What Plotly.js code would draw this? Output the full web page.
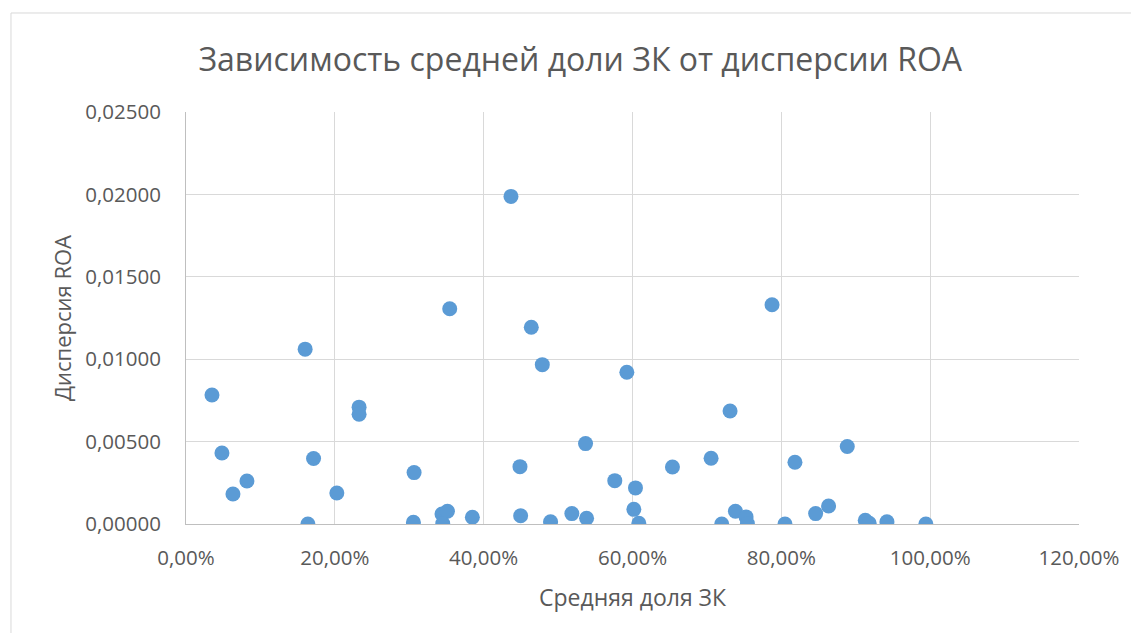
<!DOCTYPE html>
<html>
<head>
<meta charset="utf-8">
<script src="https://cdn.plot.ly/plotly-3.0.1.min.js"></script>
<style>
  html, body { margin: 0; padding: 0; background: #ffffff; }
  #chart { width: 1131px; height: 633px; }
</style>
</head>
<body>
<div id="chart"></div>
<script>
// Средняя доля заёмного капитала (доля от 1) по компаниям
const debtShare = [
  0.0349, 0.0483, 0.0631, 0.0819, 0.1601, 0.1638, 0.1714, 0.2027,
  0.2326, 0.2326, 0.3065, 0.3056, 0.3440, 0.3513, 0.3450, 0.3848,
  0.3544, 0.4367, 0.4640, 0.4788, 0.4488, 0.4497, 0.4899, 0.5185,
  0.5383, 0.5369, 0.5762, 0.6040, 0.6018, 0.6085, 0.6537, 0.7056,
  0.7311, 0.7199, 0.7383, 0.7526, 0.7544, 0.8049, 0.8183, 0.8461,
  0.8635, 0.8886, 0.9128, 0.9181, 0.9419, 0.9942, 0.5924, 0.7875
];

// Дисперсия ROA по тем же компаниям
const roaVariance = [
  0.00783, 0.00431, 0.00182, 0.00261, 0.01061, 0.00000, 0.00397, 0.00188,
  0.00709, 0.00666, 0.00312, 0.00010, 0.00061, 0.00077, 0.00002, 0.00041,
  0.01306, 0.01988, 0.01194, 0.00967, 0.00348, 0.00050, 0.00014, 0.00063,
  0.00035, 0.00488, 0.00263, 0.00219, 0.00089, 0.00004, 0.00346, 0.00399,
  0.00686, 0.00000, 0.00077, 0.00043, 0.00002, 0.00000, 0.00375, 0.00063,
  0.00109, 0.00470, 0.00022, 0.00004, 0.00014, 0.00000, 0.00921, 0.01330
];

const xTicks = [0, 0.2, 0.4, 0.6, 0.8, 1.0, 1.2];
const yTicks = [0, 0.005, 0.01, 0.015, 0.02, 0.025];

const textGray = '#595959';
const gridGray = '#d9d9d9';
const axisGray = '#bfbfbf';
const font = 'Open Sans, Noto Sans, sans-serif';

const trace = {
  type: 'scatter',
  mode: 'markers',
  x: debtShare,
  y: roaVariance,
  marker: { color: '#5b9bd5', size: 15, line: { width: 0 } },
  hoverinfo: 'x+y'
};

const layout = {
  width: 1131,
  height: 633,
  margin: { l: 186, r: 52, t: 112, b: 109 },
  paper_bgcolor: '#ffffff',
  plot_bgcolor: '#ffffff',
  separators: ', ',
  showlegend: false,
  font: { family: font, color: textGray, size: 20 },
  title: {
    text: 'Зависимость средней доли ЗК от дисперсии ROA',
    font: { family: font, size: 32, color: textGray },
    x: 0.513, xanchor: 'center',
    y: 0.905, yanchor: 'middle'
  },
  xaxis: {
    range: [0, 1.2],
    tickvals: xTicks,
    tickformat: ',.2%',
    showgrid: true,
    gridcolor: gridGray,
    gridwidth: 1,
    zeroline: false,
    showline: true,
    linecolor: axisGray,
    linewidth: 1,
    ticks: '',
    ticklabelstandoff: 15,
    tickfont: { family: font, size: 20.5, color: textGray },
    title: {
      text: 'Средняя доля ЗК',
      font: { family: font, size: 23, color: textGray },
      standoff: 20
    }
  },
  yaxis: {
    range: [0, 0.025],
    tickvals: yTicks,
    tickformat: '.5f',
    showgrid: true,
    gridcolor: gridGray,
    gridwidth: 1,
    zeroline: false,
    showline: true,
    linecolor: axisGray,
    linewidth: 1,
    ticks: '',
    ticklabelstandoff: 20,
    tickfont: { family: font, size: 20.5, color: textGray },
    title: {
      text: 'Дисперсия ROA',
      font: { family: font, size: 22, color: textGray },
      standoff: 7
    }
  },
  shapes: [
    {
      // outer chart frame
      type: 'rect', xref: 'paper', yref: 'paper',
      x0: -0.196, x1: 1.3, y0: -0.5, y1: 1.2403,
      line: { color: gridGray, width: 1 },
      fillcolor: 'rgba(0,0,0,0)',
      layer: 'below'
    }
  ]
};

Plotly.newPlot('chart', [trace], layout, { displayModeBar: false, staticPlot: true });
</script>
</body>
</html>
